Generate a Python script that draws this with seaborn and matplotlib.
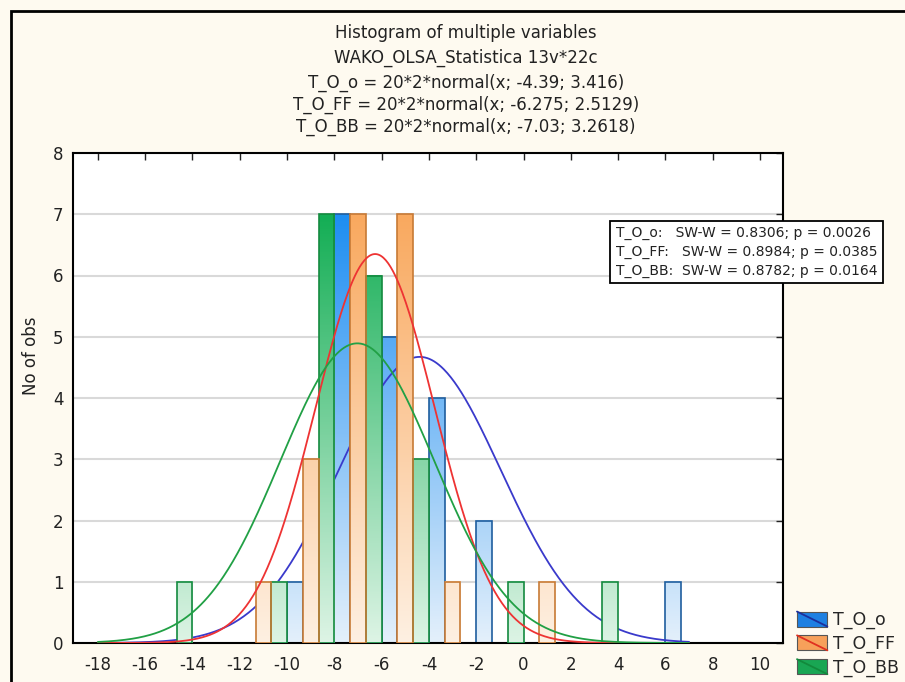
import numpy as np
import pandas as pd
import matplotlib
matplotlib.use("Agg")
import matplotlib.pyplot as plt
import seaborn as sns
from matplotlib.colors import LinearSegmentedColormap, Normalize, to_rgb
from matplotlib.patches import Rectangle, Patch
from matplotlib.lines import Line2D
from matplotlib.legend_handler import HandlerBase

# ---- data -------------------------------------------------------------
series = ["T_O_o", "T_O_FF", "T_O_BB"]
bin_edges = [-16, -14, -12, -10, -8, -6, -4, -2, 0, 2, 4, 6, 8]
bin_centers = [-15, -13, -11, -9, -7, -5, -3, -1, 1, 3, 5, 7]
counts_o = [0, 0, 0, 1, 7, 5, 4, 2, 0, 0, 0, 1]
counts_ff = [0, 0, 1, 3, 7, 7, 1, 0, 1, 0, 0, 0]
counts_bb = [1, 0, 1, 7, 6, 3, 0, 1, 0, 1, 0, 0]

# fitted normal parameters (n * bin width * normal(x; mean, sd))
n_obs = 20
bin_width = 2
fit_mean = [-4.39, -6.275, -7.03]
fit_sd = [3.416, 2.5129, 3.2618]

sw_w = ["0.8306", "0.8984", "0.8782"]
sw_p = ["0.0026", "0.0385", "0.0164"]

x_ticks = list(range(-18, 11, 2))
y_ticks = list(range(0, 9))

# ---- styling ----------------------------------------------------------
bg = "#fefaf0"
sat = ["#1e8ef2", "#f9a95f", "#14ae55"]
pale = ["#e4f0fb", "#fef0e2", "#ddf4e5"]
edge = ["#1f5e9e", "#c77a35", "#148a3f"]
curve = ["#3a3acb", "#ee3333", "#21a045"]
legend_face = ["#1e80e2", "#f7a05a", "#19a653"]
legend_line = ["#1c2f9c", "#e03020", "#128a3c"]

sns.set_theme(style="white")
plt.rcParams["font.family"] = ["DejaVu Sans"]
plt.rcParams["axes.unicode_minus"] = False

fig = plt.figure(figsize=(9.05, 6.82), dpi=100, facecolor=bg)
ax = fig.add_axes([73 / 905, 39 / 682, 710 / 905, 490 / 682])
ax.set_facecolor("white")

df = pd.DataFrame({
    "value": bin_centers * 3,
    "count": counts_o + counts_ff + counts_bb,
    "variable": [s for s in series for _ in bin_centers],
})

sns.histplot(data=df, x="value", weights="count", hue="variable",
             hue_order=series, bins=bin_edges, multiple="dodge", shrink=1,
             palette=sat, fill=True, legend=False, ax=ax)

# vertical colour gradient inside every bar (pale at 0, saturated near the top)
norm = Normalize(0, 7)
cmaps = [LinearSegmentedColormap.from_list(f"g{i}", [pale[i], sat[i]]) for i in range(3)]
bar_z = [1.6, 2.6, 2.6]
sat_rgb = [np.array(to_rgb(c)) for c in sat]
for p in list(ax.patches):
    fc = np.array(p.get_facecolor()[:3])
    k = int(np.argmin([np.abs(fc - c).sum() for c in sat_rgb]))
    h = p.get_height()
    if h <= 0:
        p.set_visible(False)
        continue
    x0, w = p.get_x(), p.get_width()
    grad = np.linspace(0, h, 128).reshape(-1, 1)
    ax.imshow(grad, cmap=cmaps[k], norm=norm, origin="lower",
              extent=(x0, x0 + w, 0, h), aspect="auto",
              interpolation="bilinear", zorder=bar_z[k])
    p.set_facecolor("none")
    p.set_edgecolor(edge[k])
    p.set_linewidth(1.2)
    p.set_alpha(1)
    p.set_zorder(bar_z[k] + 0.05)

# fitted normal curves
xs = np.linspace(-18, 7, 500)
curve_z = [2.0, 3.0, 3.0]
for i in range(3):
    ys = n_obs * bin_width * np.exp(-0.5 * ((xs - fit_mean[i]) / fit_sd[i]) ** 2) / (
        fit_sd[i] * np.sqrt(2 * np.pi))
    sns.lineplot(x=xs, y=ys, color=curve[i], lw=1.3, ax=ax, zorder=curve_z[i])

ax.set_xlim(-19.05, 10.97)
ax.set_ylim(0, 8)
ax.set_xticks(x_ticks)
ax.set_yticks(y_ticks)
ax.set_xlabel("")
ax.set_ylabel("No of obs", fontsize=12, color="#222222")
ax.yaxis.set_label_coords(-0.047, 0.586)
ax.tick_params(direction="in", top=True, right=True, length=5, width=1,
               labelsize=12, colors="#222222", labelcolor="#222222")
ax.tick_params(axis="x", pad=9)
ax.tick_params(axis="y", pad=7)
ax.yaxis.grid(True, color="#d9d9d9", lw=1.5)
ax.xaxis.grid(False)
ax.set_axisbelow(True)
for s in ax.spines.values():
    s.set_visible(True)
    s.set_color("black")
    s.set_linewidth(1.5)

# titles
title_lines = [
    "Histogram of multiple variables",
    "WAKO_OLSA_Statistica 13v*22c",
] + [f"{series[i]} = {n_obs}*{bin_width}*normal(x; {fit_mean[i]:g}; {fit_sd[i]:g})"
     for i in range(3)]
baselines = [38, 63, 88, 110, 132]
for txt, yb in zip(title_lines, baselines):
    fig.text(466 / 905, 1 - yb / 682, txt, ha="center", va="baseline",
             fontsize=12, color="#222222")

# Shapiro-Wilk box
gaps = ["   ", "   ", "  "]
sw_text = "\n".join(f"{series[i]}:{gaps[i]}SW-W = {sw_w[i]}; p = {sw_p[i]}" for i in range(3))
fig.text(616 / 905, 1 - 252 / 682, sw_text, ha="left", va="center", fontsize=10,
         color="#222222", linespacing=1.4,
         bbox=dict(boxstyle="square,pad=0.4", fc="white", ec="black", lw=1.3))


# legend: bar swatch crossed by the curve colour
class BarLineHandler(HandlerBase):
    def __init__(self, face, line):
        super().__init__()
        self.face = face
        self.line = line

    def create_artists(self, legend, orig_handle, xdescent, ydescent, width,
                       height, fontsize, trans):
        r = Rectangle((-xdescent, -ydescent), width, height, facecolor=self.face,
                      edgecolor="#555555", lw=0.8, transform=trans)
        l = Line2D([-xdescent, -xdescent + width], [-ydescent + height, -ydescent],
                   color=self.line, lw=1.3, transform=trans)
        return [r, l]


handles = [Patch(label=s) for s in series]
hmap = {h: BarLineHandler(legend_face[i], legend_line[i]) for i, h in enumerate(handles)}
fig.legend(handles=handles, labels=series, handler_map=hmap, loc="upper left",
           bbox_to_anchor=(797 / 905, 1 - 611 / 682), frameon=False, borderpad=0,
           fontsize=12.5, handlelength=1.75, handleheight=0.95, handletextpad=0.3,
           labelspacing=0.32, borderaxespad=0)

# window frame
fig.patches.append(Rectangle((11 / 905, -0.2), 2, 1.2 + 0.9839 - 1, transform=fig.transFigure,
                             fill=False, lw=2, edgecolor="black"))

fig.savefig("out.png", dpi=100, facecolor=bg)
